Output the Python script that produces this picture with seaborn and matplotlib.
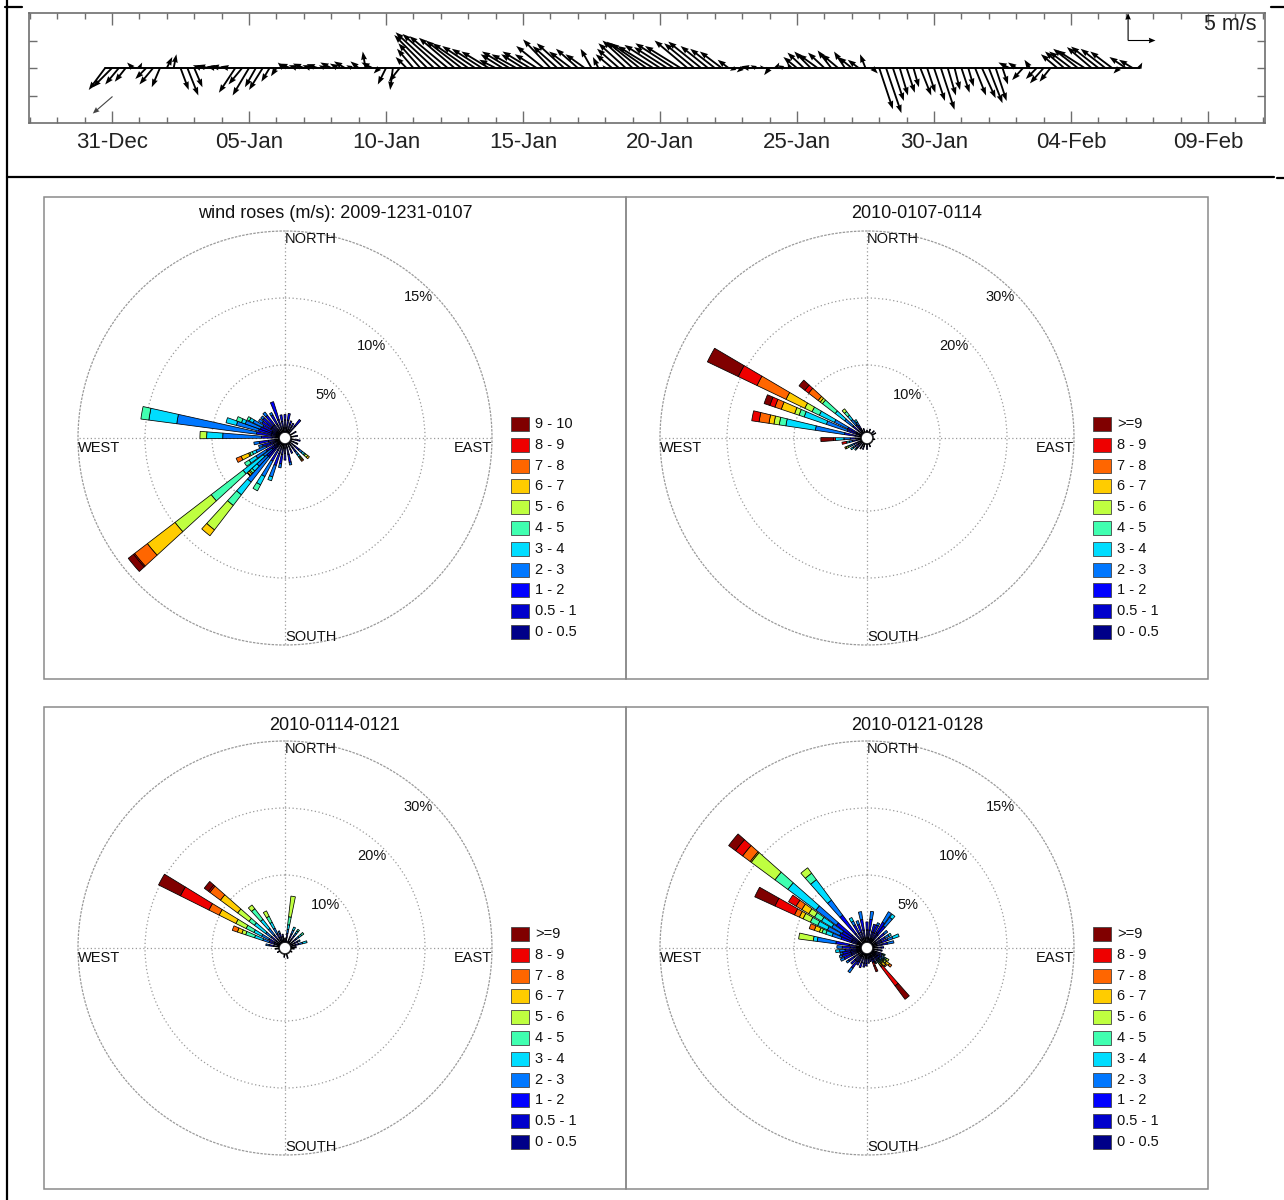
import numpy as np
import pandas as pd
import matplotlib
matplotlib.use("Agg")
import matplotlib.pyplot as plt
import matplotlib.dates as mdates
from matplotlib.patches import Rectangle
from matplotlib.lines import Line2D
import seaborn as sns

# ---------------------------------------------------------------- data
# 6-hourly wind vectors (m/s) starting 2009-12-30 18:00; u = east, v = north
STICK_START = "2009-12-30 18:00"
STICK_U = [-3,
           -3.5, -2.5, -2, -1,      0.5, -2, -2.5, -1.5,     1, 0.5, 1.5, 2,
           1.5, -1.5, -2, -1.5,     -2, -1.5, -3, -2.5,      -3, -2, -2.5, -1.5,
           -1, -1, -2, -1.5,        -2, -1.5, -2, -1,        -2, -1.5, -2, -1,
           -1.5, -0.5, -2, -1,      -1.5, -0.5, -2, -2,      -3, -4, -6, -7,
           -7, -7, -6.5, -6.5,      -6.5, -6, -5.5, -5,      -3, -4, -5, -4.5,
           -4, -5, -4, -5,          -5, -4.5, -5, -4,        -4, -3.5, -2, -1,
           -0.5, -3, -4, -5,        -5.5, -6, -6.5, -6.5,    -6.5, -6, -7, -6.5,
           -6, -5.5, -6, -5,        -4.5, -4, -2, -1,        -1, -1.5, -1, -0.5,
           -1, 0.5, -1, -0.5,       -2.5, -3, -3, -3.5,      -3, -2.5, -3, -2,
           -2.5, -2, -1, 1,         2.5, 2.8, 2, 1.5,        1.5, 1, 2, 1.5,
           2, 2.5, 1.5, 1,          1.5, 1, 2, 2.5,          2.5, 2, 1, -2,
           -1.5, -2, -1, -2,        -2.5, -2, -3, -3.5,      -4, -4.5, -5, -4.5,
           -5, -4.5, -4, -1,        -3, -2.5, 0.5]
STICK_V = [-4,
           -3.5, -3, -2.5, 1,       1, -2, -3, -3.5,         2, 2.5, -4, -5,
           -3.5, 0.5, 0.5, 0.3,     0.4, 0.3, -4.5, -3,      -5, -3.5, -4, -2.5,
           -1.5, 1, 0.8, 0.5,       0.8, 0.5, 0.7, 0.5,      1, 0.8, 1.2, 0.5,
           1.2, 3, 1, -1,           -3, -4, -2.5, 2,         3.5, 4.5, 6, 6.5,
           6.2, 5.8, 5.5, 5,        4.5, 4, 3.5, 3,          1.5, 2.5, 3, 2.5,
           2.5, 3, 2.5, 4,          5.2, 4, 4.5, 3,          3.5, 2.5, 3.5, 2,
           0.5, 2.5, 3.5, 4.5,      5, 4.8, 4.5, 4,          4.2, 3.8, 4.5, 4,
           5, 4.5, 4.8, 4,          3.5, 3, 1.5, -0.5,       -0.8, 0.3, 0.5, 0.5,
           -1.3, 1, 0.5, 1,         2, 2.8, 3, 2.5,          2.8, 3.2, 2.5, 3,
           2, 1.5, 2.5, -1,         -7.5, -8.2, -6, -5,      -4.5, -3.5, -5, -4.5,
           -6, -7.6, -5, -4,        -4.5, -3.4, -5, -5.5,    -6.4, -6, -3, 1,
           1, -2.2, 1.5, -2,        -2.8, -2.5, 2.5, 3,      3, 3.5, 3.2, 3.8,
           3.9, 3.5, 3, -1,         2, 1.5, 1]

# single vector drawn below the series start
EXTRA_ARROW_TIME = "2009-12-31 00:00"
EXTRA_ARROW_Y = -5
EXTRA_ARROW_UV = (-3.6, -3.1)

# reference vector
SCALE_TIME = "2010-02-06 02:00"
SCALE_Y = 5
SCALE_MS = 5

SPEED_BINS = ["0 - 0.5", "0.5 - 1", "1 - 2", "2 - 3", "3 - 4", "4 - 5",
              "5 - 6", "6 - 7", "7 - 8", "8 - 9", "9 - 10"]
SPEED_BINS_OPEN = SPEED_BINS[:-1] + [">=9"]
BIN_COLORS = ["#000088", "#0000cc", "#0000ff", "#0077ff", "#00ddff", "#40ffb0",
              "#bfff40", "#ffcc00", "#ff6600", "#ee0000", "#800000"]

TITLES = ["wind roses (m/s): 2009-1231-0107", "2010-0107-0114",
          "2010-0114-0121", "2010-0121-0128"]
RINGS = [[5, 10, 15], [10, 20, 30], [10, 20, 30], [5, 10, 15]]

# direction (deg, towards) and frequency (%) per speed bin, lowest bin first
ROSE1_DIR = [0, 10, 20, 30, 40, 60, 80, 100, 115, 130, 142, 155, 168, 180, 190,
             200, 210, 220, 225, 230, 236, 245, 252, 260, 272, 280, 287, 292,
             298, 305, 312, 320, 330, 340, 350]
ROSE1_FREQ = [
    [0.3, 0.6, 0.4], [0.3, 0.6, 0.5], [0.2, 0.4, 0.3], [0.2, 0.3, 0.3],
    [0.2, 0.5, 0.6], [0.2, 0.3], [0.2, 0.3], [0.2, 0.3, 0.2], [0.2, 0.3, 0.1],
    [0.2, 0.3, 0.4, 0.3, 0.2, 0.1, 0.2, 0.15],
    [0.2, 0.3, 0.3, 0.3, 0.2, 0.1, 0.1, 0.1, 0.1],
    [0.2, 0.3, 0.3], [0.3, 0.5, 0.6, 0.2], [0.3, 0.4, 0.5], [0.3, 0.5, 0.7, 0.3],
    [0.3, 0.5, 0.9, 0.9, 0.3], [0.2, 0.4, 0.9, 1.3, 0.7, 0.5],
    [0.1, 0.3, 1.0, 2.3, 1.2, 1.0, 2.3, 0.55],
    [0.2, 0.4, 0.8, 1.0, 0.5, 0.2, 0.1, 0.15, 0.05],
    [0.1, 0.2, 0.5, 0.8, 1.9, 3.0, 3.4, 2.6, 1.2, 0.1, 0.5],
    [0.2, 0.3, 0.7, 0.9, 0.6, 0.4],
    [0.2, 0.3, 0.6, 0.8, 0.3, 0.2, 0.1, 0.6, 0.4],
    [0.3, 0.4, 0.6, 0.3], [0.3, 0.5, 0.7, 0.4],
    [0.2, 0.3, 0.8, 2.9, 1.2, 0.0, 0.5],
    [0.2, 0.4, 1.1, 6.0, 2.1, 0.6],
    [0.2, 0.4, 1.0, 1.7, 0.8], [0.2, 0.4, 0.9, 1.2, 0.3, 0.4],
    [0.2, 0.4, 0.8, 0.8, 0.3, 0.2], [0.3, 0.5, 0.8, 0.3], [0.3, 0.5, 0.9, 0.2],
    [0.3, 0.5, 0.9, 0.3], [0.2, 0.5, 0.8, 0.2], [0.3, 0.7, 1.4], [0.3, 0.5, 0.5],
]

ROSE2_DIR = [0, 20, 45, 60, 100, 160, 180, 200, 212, 225, 235, 245, 258, 268,
             281, 291, 298, 310, 320, 327, 340]
ROSE2_FREQ = [
    [0.3], [0.3, 0.2], [0.3, 0.3], [0.4, 0.2], [0.3], [0.3, 0.2], [0.4, 0.4],
    [0.4, 0.5], [0.3, 0.4, 0.3], [0.3, 0.4, 0.4, 0.2, 0.3],
    [0.3, 0.4, 0.5, 0.4, 0.4],
    [0.3, 0.4, 0.5, 0.4, 0.3, 0.3, 0.3, 0.2],
    [0.3, 0.4, 0.6, 0.5, 0.4, 0, 0, 0, 0, 0.7],
    [0.3, 0.5, 0.8, 0.95, 1.25, 0, 0, 0, 0, 0.3, 1.9],
    [0.3, 0.6, 1.6, 4.4, 4.45, 1.0, 0.8, 0.75, 1.5, 1.1, 0],
    [0.3, 0.5, 1.4, 3.3, 3.5, 0.8, 0.7, 2.1, 1.0, 0.8, 0.9],
    [0.3, 0.5, 1.5, 2.2, 2.5, 1.2, 1.2, 3.1, 4.8, 3.1, 5.1],
    [0.3, 0.5, 1.0, 1.5, 1.8, 2.4, 0.4, 0.4, 1.8, 0.7, 1.1],
    [0.3, 0.5, 0.8, 1.0, 0.8, 0.7, 0.5],
    [0.3, 0.4, 0.6, 0.6, 0.4], [0.3, 0.3],
]

ROSE3_DIR = [0, 9, 25, 37, 51, 63, 74, 85, 95, 120, 165, 185, 240, 265, 280,
             291, 299, 309, 320, 331, 340, 350]
ROSE3_FREQ = [
    [0.3, 0.3], [0.3, 0.4, 0.6, 0.6, 0.7, 1.2, 3.1], [0.3, 0.5, 0.6, 0.6, 0.5],
    [0.3, 0.4, 0.6, 0.5, 0.4, 0.3], [0.3, 0.4, 0.5, 0.5, 0.5, 0.4],
    [0.3, 0.4, 0.5, 0.4], [0.3, 0.4, 0.5, 0.6, 0.7], [0.3, 0.3, 0.2],
    [0.3, 0.2], [0.3], [0.4, 0.3], [0.3, 0.2], [0.2, 0.2], [0.3, 0.3],
    [0.3, 0.5, 0.7, 0.5],
    [0.3, 0.5, 0.8, 1.0, 1.3, 1.4, 0.6, 0.7, 0.8],
    [0.3, 0.5, 1.0, 1.2, 1.3, 1.3, 1.7, 2.8, 1.7, 4.75, 3.65],
    [0.3, 0.5, 0.9, 1.0, 2.1, 1.0, 2.1, 3.2, 1.95, 0.25, 0.8],
    [0.3, 0.5, 0.8, 1.2, 1.7, 2.0, 0.7],
    [0.3, 0.5, 0.7, 0.9, 1.0, 1.0, 0.9],
    [0.3, 0.5, 0.6, 0.4], [0.3, 0.5, 0.4],
]

ROSE4_DIR = [0, 8, 18, 25, 33, 39, 50, 60, 68, 77, 88, 100, 112, 120, 127, 134,
             141, 150, 157, 165, 173, 182, 190, 200, 210, 217, 225, 235, 245,
             252, 258, 264, 272, 280, 291, 297, 303, 309, 321, 331, 340, 349]
ROSE4_FREQ = [
    [0.3, 0.6, 0.6], [0.3, 0.6, 0.8, 0.6], [0.3, 0.5, 0.6], [0.3, 0.5, 0.6, 0.2],
    [0.3, 0.6, 0.9, 0.9], [0.3, 0.5, 0.8, 0.8, 0.3], [0.3, 0.4, 0.5, 0.3],
    [0.3, 0.4, 0.4, 0.3, 0.2], [0.3, 0.4, 0.5, 0.4, 0.5], [0.3, 0.4, 0.4, 0.5],
    [0.3, 0.3, 0.2], [0.3, 0.3, 0.1], [0.3, 0.2, 0.2, 0.1, 0.1, 0.1],
    [0.3, 0.3, 0.2, 0.2, 0.1, 0.1, 0.2],
    [0.3, 0.2, 0.2, 0.2, 0.1, 0.1, 0.2, 0.3, 0.2],
    [0.3, 0.2, 0.2, 0.1, 0.1, 0.1, 0.1, 0.3, 0.1],
    [0.3, 0.2, 0.2, 0.1, 0.1, 0.1, 0.1, 0.1, 0.1, 1.77, 1.25],
    [0.3, 0.2, 0.2, 0.1, 0.1],
    [0.3, 0.2, 0.2, 0, 0, 0, 0, 0, 0, 0.3, 0.45],
    [0.3, 0.3], [0.3, 0.4], [0.3, 0.4, 0.2], [0.3, 0.4, 0.3], [0.3, 0.4, 0.4],
    [0.3, 0.4, 0.3], [0.3, 0.5, 0.6, 0.4], [0.3, 0.5, 0.4], [0.3, 0.4, 0.5, 0.2],
    [0.3, 0.5, 0.6, 0.3], [0.3, 0.5, 0.7, 0.2], [0.3, 0.5, 0.6, 0.2],
    [0.3, 0.4, 0.5, 0.4, 0.3], [0.3, 0.5, 0.6, 0.4],
    [0.3, 0.6, 1.0, 1.4, 0.3, 0, 1.1],
    [0.3, 0.5, 0.8, 0.7, 0.5, 0.3, 0.2, 0.4, 0.4],
    [0.3, 0.5, 1.0, 1.0, 0.8, 0.6, 0.6, 0.3, 0.4, 1.6, 1.66],
    [0.3, 0.5, 0.9, 0.9, 0.9, 0.6, 0.5, 0.6, 0.5, 0.65, 0],
    [0.3, 0.7, 1.4, 1.9, 2.6, 1.2, 2.2, 0.1, 0.7, 0.66, 0.64],
    [0.3, 0.6, 1.7, 1.4, 1.9, 0.6, 0.5],
    [0.3, 0.5, 0.7, 0.3, 0.3], [0.3, 0.5, 0.6, 0.3], [0.3, 0.6, 0.8, 0.6],
]

# ---------------------------------------------------------------- style
sns.set_theme(style="white")
plt.rcParams["font.family"] = ["Liberation Sans", "DejaVu Sans"]
palette = sns.color_palette(BIN_COLORS)

W, H = 1284, 1200
fig = plt.figure(figsize=(W / 100, H / 100), dpi=100)
fig.patch.set_facecolor("white")


def fx(x):
    return x / W


def fy(y):
    return 1 - y / H


FRAME = "#6e6e6e"

# ---------------------------------------------------------------- page rules
for (x0, y0, x1, y1) in [(7, 0, 7, 1200), (7, 176.5, 1274, 176.5),
                         (5, 7, 22, 7), (1271, 7, 1284, 7), (1277, 178, 1284, 178)]:
    fig.add_artist(Line2D([fx(x0), fx(x1)], [fy(y0), fy(y1)], color="black",
                          lw=1.6, transform=fig.transFigure))

# ---------------------------------------------------------------- stick plot
DAYS_PER_MS = 0.2
ax = fig.add_axes([fx(29), fy(123), fx(1265) - fx(29), (123 - 13) / H])
times = mdates.date2num(pd.date_range(STICK_START, periods=len(STICK_U), freq="6h"))
u = np.asarray(STICK_U, float)
v = np.asarray(STICK_V, float)
ax.plot([times[0], times[-1]], [0, 0], color="black", lw=1.4, zorder=2)
ax.quiver(times, np.zeros_like(times), u * DAYS_PER_MS, v, angles="xy",
          scale_units="xy", scale=1, width=0.0015, headwidth=3.2, headlength=4.5,
          headaxislength=4.2, color="black", zorder=3)

t_extra = mdates.date2num(pd.Timestamp(EXTRA_ARROW_TIME))
ax.quiver([t_extra], [EXTRA_ARROW_Y], [EXTRA_ARROW_UV[0] * DAYS_PER_MS],
          [EXTRA_ARROW_UV[1]], angles="xy", scale_units="xy", scale=1,
          width=0.0009, headwidth=5, headlength=6, headaxislength=5.5,
          color="#444444")

t_scale = mdates.date2num(pd.Timestamp(SCALE_TIME))
ax.quiver([t_scale, t_scale], [SCALE_Y, SCALE_Y], [0, SCALE_MS * DAYS_PER_MS],
          [SCALE_MS, 0], angles="xy", scale_units="xy", scale=1,
          width=0.0009, headwidth=5, headlength=6, headaxislength=5.5,
          color="black")
ax.text(0.9935, 0.90, f"{SCALE_MS} m/s", transform=ax.transAxes, ha="right",
        va="center", fontsize=15.5, color="#222222")

t_ref = mdates.date2num(pd.Timestamp("2009-12-31"))
ax.set_xlim(t_ref - 3.03, t_ref + 42.08)
ax.set_ylim(-10, 10)
ax.set_xticks(mdates.date2num(pd.date_range("2009-12-31", periods=9, freq="5D")))
ax.xaxis.set_major_formatter(mdates.DateFormatter("%d-%b"))
ax.xaxis.set_minor_locator(mdates.DayLocator())
ax.set_yticks([-5, 0, 5])
ax.set_yticklabels([])
ax.tick_params(axis="x", which="major", direction="in", length=8.5, width=1,
               top=True, bottom=True, color=FRAME, labelsize=16, pad=6.5,
               labelcolor="#222222")
ax.tick_params(axis="x", which="minor", direction="in", length=4.5, width=1,
               top=True, bottom=True, color=FRAME)
ax.tick_params(axis="y", direction="in", length=6, width=1, left=True,
               right=True, color=FRAME)
for s in ax.spines.values():
    s.set_color(FRAME)
    s.set_linewidth(1.2)
ax.set_facecolor("white")

# ---------------------------------------------------------------- wind roses
ROSES = [(ROSE1_DIR, ROSE1_FREQ), (ROSE2_DIR, ROSE2_FREQ),
         (ROSE3_DIR, ROSE3_FREQ), (ROSE4_DIR, ROSE4_FREQ)]
CENTERS = [(285, 438), (867, 438), (285, 948), (867, 948)]
BOXES = [(44, 197, 626, 679), (626, 197, 1208, 679),
         (44, 707, 626, 1189), (626, 707, 1208, 1189)]
R_PX = 207
HOLE_PX = 6
GRID = "#9a9a9a"
DOT = (0, (1, 2))

for i, ((dirs, freqs), (cx, cy), box) in enumerate(zip(ROSES, CENTERS, BOXES)):
    bx0, by0, bx1, by1 = box
    fig.add_artist(Rectangle((fx(bx0), fy(by1)), (bx1 - bx0) / W, (by1 - by0) / H,
                             fill=False, edgecolor="#8a8a8a", lw=1.1,
                             transform=fig.transFigure))
    fig.text(fx((bx0 + bx1) / 2), fy(214 if i < 2 else 725), TITLES[i],
             ha="center", va="center", fontsize=13, color="#111111")

    rings = RINGS[i]
    rmax = rings[-1]
    hole = HOLE_PX / (R_PX - HOLE_PX) * rmax
    pax = fig.add_axes([fx(cx - R_PX), fy(cy + R_PX), 2 * R_PX / W, 2 * R_PX / H],
                       projection="polar")
    pax.set_theta_zero_location("N")
    pax.set_theta_direction(-1)
    pax.set_ylim(0, rmax)
    pax.set_rorigin(-hole)
    pax.set_rgrids(rings[:-1], labels=[])
    pax.set_thetagrids([0, 90, 180, 270], labels=[])
    pax.grid(True, color=GRID, linestyle=DOT, linewidth=0.9)
    pax.set_axisbelow(True)
    pax.set_facecolor("none")
    for name, sp in pax.spines.items():
        if name == "polar":
            sp.set_color(GRID)
            sp.set_linestyle(DOT)
            sp.set_linewidth(0.9)
        else:
            sp.set_visible(False)

    width = np.deg2rad(5)
    for d, vals in zip(dirs, freqs):
        bottom = 0.0
        for k, val in enumerate(vals):
            if val > 0:
                pax.bar(np.deg2rad(d), val, width=width, bottom=bottom,
                        color=palette[k], edgecolor="black", linewidth=0.55,
                        zorder=3)
            bottom += val

    # compass labels
    kw = dict(fontsize=10.5, color="#111111")
    fig.text(fx(cx), fy(cy - R_PX + 1), "NORTH", ha="left", va="top", **kw)
    fig.text(fx(cx), fy(cy + R_PX - 1), "SOUTH", ha="left", va="bottom", **kw)
    fig.text(fx(cx - R_PX), fy(cy + 3), "WEST", ha="left", va="top", **kw)
    fig.text(fx(cx + R_PX), fy(cy + 3), "EAST", ha="right", va="top", **kw)

    # ring labels
    ang = np.deg2rad(46.6)
    for rv in rings:
        rp = HOLE_PX + (R_PX - HOLE_PX) * rv / rmax - 13.5
        fig.text(fx(cx + rp * np.cos(ang)), fy(cy - rp * np.sin(ang)), f"{rv}%",
                 ha="center", va="center", fontsize=10.5, color="#111111")

    # legend
    labels = SPEED_BINS if i == 0 else SPEED_BINS_OPEN
    for row, k in enumerate(range(len(labels) - 1, -1, -1)):
        yc = cy - 14 + 20.8 * row
        fig.add_artist(Rectangle((fx(cx + 226), fy(yc + 7)), 18 / W, 14 / H,
                                 facecolor=palette[k], edgecolor="#444444",
                                 lw=0.6, transform=fig.transFigure))
        fig.text(fx(cx + 250), fy(yc), labels[k], ha="left", va="center",
                 fontsize=10.5, color="#111111")

fig.savefig("out.png", dpi=100, facecolor="white")
